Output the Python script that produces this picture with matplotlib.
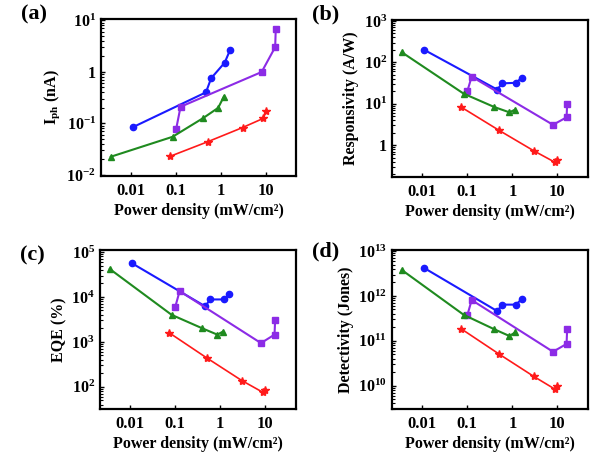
import matplotlib
matplotlib.use('Agg')
import matplotlib.pyplot as plt
import numpy as np
from matplotlib.ticker import FixedLocator, FixedFormatter, LogLocator, NullFormatter

plt.rcParams['font.family'] = ['Liberation Serif', 'DejaVu Serif']
plt.rcParams['font.weight'] = 'bold'
plt.rcParams['mathtext.fontset'] = 'custom'
plt.rcParams['mathtext.rm'] = 'Liberation Serif:bold'
plt.rcParams['mathtext.bf'] = 'Liberation Serif:bold'
plt.rcParams['mathtext.it'] = 'Liberation Serif:bold'

# power density (mW/cm2) for each sample
p_blue = [0.011, 0.46, 0.6, 1.2, 1.6]
p_purple = [0.1, 0.125, 8.0, 16.0, 16.5]
p_green = [0.0035, 0.083, 0.4, 0.86, 1.15]
p_red = [0.073, 0.5, 3.0, 8.7, 10.0]

# (a) photocurrent (nA)
iph_blue = [0.085, 0.4, 0.75, 1.5, 2.7]
iph_purple = [0.079, 0.21, 0.99, 3.0, 6.8]
iph_green = [0.0226, 0.055, 0.127, 0.2, 0.33]
iph_red = [0.023, 0.044, 0.083, 0.125, 0.17]

# (b) responsivity (A/W)
r_blue = [200, 22, 31, 32, 42]
r_purple = [20, 45, 3.1, 4.7, 10]
r_green = [175, 17.5, 8.3, 6.2, 7.2]
r_red = [8.3, 2.3, 0.73, 0.39, 0.45]

# (c) EQE (%)
eqe_blue = [5.6e4, 6.2e3, 8.8e3, 8.8e3, 1.15e4]
eqe_purple = [6.0e3, 1.35e4, 940, 1450, 3000]
eqe_green = [4.2e4, 4.0e3, 2.0e3, 1.45e3, 1.7e3]
eqe_red = [1.6e3, 440, 138, 76, 83]

# (d) detectivity (Jones)
d_blue = [4.2e12, 4.6e11, 6.4e11, 6.4e11, 8.4e11]
d_purple = [3.7e11, 8.1e11, 5.7e10, 8.5e10, 1.85e11]
d_green = [3.8e12, 3.8e11, 1.8e11, 1.28e11, 1.53e11]
d_red = [1.85e11, 5.1e10, 1.6e10, 8.4e9, 9.6e9]

x_ticks = [0.01, 0.1, 1, 10]
x_labels = ['0.01', '0.1', '1', '10']

colors = {'blue': '#1a1aff', 'purple': '#8c2be6', 'green': '#1f8a1f', 'red': '#ff1a1a'}

fig = plt.figure(figsize=(5.9, 4.54), dpi=100)

panels = [
    ('(a)', [0.171, 0.612, 0.331, 0.346], 0.967, (iph_blue, iph_purple, iph_green, iph_red),
     r'I$_{\mathbf{ph}}$ (nA)', (0.0095, 10.5),
     [0.01, 0.1, 1, 10], [r'$10^{-2}$', r'$10^{-1}$', '1', r'$10^{1}$']),
    ('(b)', [0.664, 0.610, 0.332, 0.346], 0.967, (r_blue, r_purple, r_green, r_red),
     'Responsivity (A/W)', (0.17, 1050),
     [1, 10, 100, 1000], ['1', r'$10^{1}$', r'$10^{2}$', r'$10^{3}$']),
    ('(c)', [0.169, 0.099, 0.332, 0.350], 0.438, (eqe_blue, eqe_purple, eqe_green, eqe_red),
     'EQE (%)', (32, 1.1e5),
     [1e2, 1e3, 1e4, 1e5], [r'$10^{2}$', r'$10^{3}$', r'$10^{4}$', r'$10^{5}$']),
    ('(d)', [0.664, 0.099, 0.332, 0.350], 0.446, (d_blue, d_purple, d_green, d_red),
     'Detectivity (Jones)', (3e9, 1.05e13),
     [1e10, 1e11, 1e12, 1e13], [r'$10^{10}$', r'$10^{11}$', r'$10^{12}$', r'$10^{13}$']),
]

for tag, rect, tag_y, ys, ylabel, ylim, yt, ytl in panels:
    ax = fig.add_axes(rect)
    yb, yp, yg, yr = ys
    ax.plot(p_blue, yb, '-o', color=colors['blue'], lw=1.5, ms=4.5)
    ax.plot(p_purple, yp, '-s', color=colors['purple'], lw=1.5, ms=4)
    ax.plot(p_green, yg, '-^', color=colors['green'], lw=1.5, ms=4.5)
    ax.plot(p_red, yr, '-*', color=colors['red'], lw=1.2, ms=6)
    ax.set_xscale('log')
    ax.set_yscale('log')
    ax.set_xlim(0.0021, 47)
    ax.set_ylim(*ylim)
    ax.xaxis.set_major_locator(FixedLocator(x_ticks))
    ax.xaxis.set_major_formatter(FixedFormatter(x_labels))
    ax.xaxis.set_minor_locator(LogLocator(base=10, subs=np.arange(2, 10)))
    ax.xaxis.set_minor_formatter(NullFormatter())
    ax.yaxis.set_major_locator(FixedLocator(yt))
    ax.yaxis.set_major_formatter(FixedFormatter(ytl))
    ax.yaxis.set_minor_locator(LogLocator(base=10, subs=np.arange(2, 10)))
    ax.yaxis.set_minor_formatter(NullFormatter())
    ax.tick_params(which='both', direction='in')
    ax.tick_params(axis='x', labelsize=12, pad=5)
    ax.tick_params(axis='y', labelsize=11.5)
    ax.tick_params(which='major', length=3, width=1)
    ax.tick_params(which='minor', length=2, width=0.8)
    for s in ax.spines.values():
        s.set_linewidth(1.6)
    ax.set_xlabel('Power density (mW/cm²)', fontsize=11.5, fontweight='bold', labelpad=3)
    ax.set_ylabel(ylabel, fontsize=11.5, fontweight='bold', labelpad=3)
    pos = ax.get_position()
    fig.text(pos.x0 - 0.135, tag_y, tag, fontsize=16, fontweight='bold',
             ha='left', va='center')

fig.savefig('out.png', dpi=100)
